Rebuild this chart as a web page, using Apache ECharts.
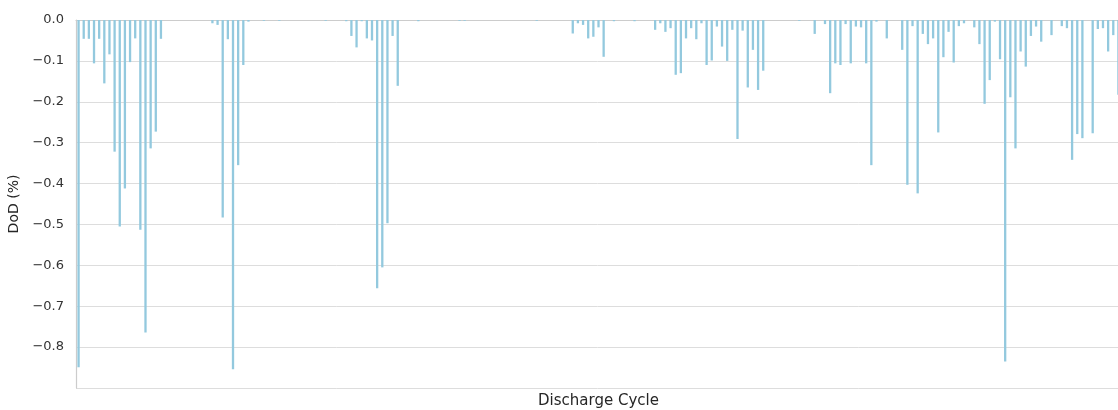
<!DOCTYPE html>
<html>
<head>
<meta charset="utf-8">
<script src="https://cdn.jsdelivr.net/npm/echarts@6/dist/echarts.min.js"></script>
<style>
html,body{margin:0;padding:0;background:#fff;overflow:hidden;}
#chart{width:1118px;height:410px;}
</style>
</head>
<body>
<div id="chart"></div>
<script>
// Depth of discharge per discharge cycle (%)
const dodValues = [
  -0.849,-0.046,-0.046,-0.106,-0.046,-0.155,-0.084,-0.322,-0.505,-0.412,
  -0.103,-0.045,-0.513,-0.764,-0.314,-0.273,-0.046,0,0,0,
  0,0,0,0,0,0,-0.008,-0.012,-0.483,-0.047,
  -0.854,-0.355,-0.110,-0.004,0,0,-0.002,0,0,-0.002,
  0,0,0,0,0,0,0,0,-0.002,0,
  0,0,-0.003,-0.039,-0.067,-0.003,-0.045,-0.050,-0.656,-0.605,
  -0.497,-0.039,-0.161,0,0,0,-0.003,0,0,0,
  0,0,0,0,-0.002,-0.002,0,0,0,0,
  0,0,0,0,0,0,0,0,0,-0.002,
  0,0,0,0,0,0,-0.033,-0.008,-0.012,-0.045,
  -0.041,-0.018,-0.090,0,-0.003,0,0,0,-0.003,0,
  0,0,-0.024,-0.008,-0.029,-0.020,-0.134,-0.130,-0.045,-0.020,
  -0.047,-0.008,-0.110,-0.099,-0.016,-0.065,-0.100,-0.024,-0.291,-0.026,
  -0.165,-0.073,-0.171,-0.124,0,0,0,0,0,0,
  -0.002,0,0,-0.034,0,-0.010,-0.179,-0.106,-0.110,-0.010,
  -0.106,-0.016,-0.018,-0.106,-0.355,-0.004,0,-0.045,0,0,
  -0.073,-0.403,-0.015,-0.424,-0.034,-0.059,-0.045,-0.275,-0.091,-0.029,
  -0.104,-0.015,-0.008,0,-0.018,-0.059,-0.205,-0.147,-0.004,-0.096,
  -0.835,-0.189,-0.314,-0.077,-0.114,-0.039,-0.016,-0.053,0,-0.037,
  0,-0.015,-0.020,-0.342,-0.279,-0.289,0,-0.277,-0.022,-0.020,
  -0.077,-0.037,-0.183
];
// Cycle numbers (category labels, not displayed in the reference)
const cycles = dodValues.map((_, i) => String(i + 1));
const yTicks = { min: -0.9, max: 0, step: 0.1 };
const xTitle = 'Discharge Cycle';
const yTitle = 'DoD (%)';

const chart = echarts.init(document.getElementById('chart'), null, {renderer: 'canvas'});
chart.setOption({
  animation: false,
  backgroundColor: '#ffffff',
  grid: {left: 76, width: 1045, top: 20, bottom: 22, containLabel: false, outerBoundsMode: 'none'},
  xAxis: {
    type: 'category',
    data: cycles,
    name: xTitle,
    nameLocation: 'middle',
    nameGap: 6,
    nameTextStyle: {fontFamily: 'DejaVu Sans', fontSize: 15, color: '#262626', verticalAlign: 'top'},
    axisLine: {show: true, lineStyle: {color: '#cccccc', width: 1.2}},
    axisTick: {show: false},
    axisLabel: {show: false},
    splitLine: {show: false}
  },
  yAxis: {
    type: 'value',
    min: yTicks.min,
    max: yTicks.max,
    interval: yTicks.step,
    name: yTitle,
    nameLocation: 'middle',
    nameGap: 47,
    nameTextStyle: {fontFamily: 'DejaVu Sans', fontSize: 14, color: '#262626'},
    axisLine: {show: true, lineStyle: {color: '#cccccc', width: 1.2}},
    axisTick: {show: false},
    axisLabel: {
      fontFamily: 'DejaVu Sans', fontSize: 13, color: '#333333', margin: 12,
      formatter: v => (v < -0.85 ? '' : v.toFixed(1).replace('-', '\u2212'))
    },
    splitLine: {show: true, lineStyle: {color: '#dddddd', width: 1}}
  },
  series: [{
    type: 'bar',
    data: dodValues,
    barWidth: 2.3,
    itemStyle: {color: '#93c9de'}
  }]
});
</script>
</body>
</html>
